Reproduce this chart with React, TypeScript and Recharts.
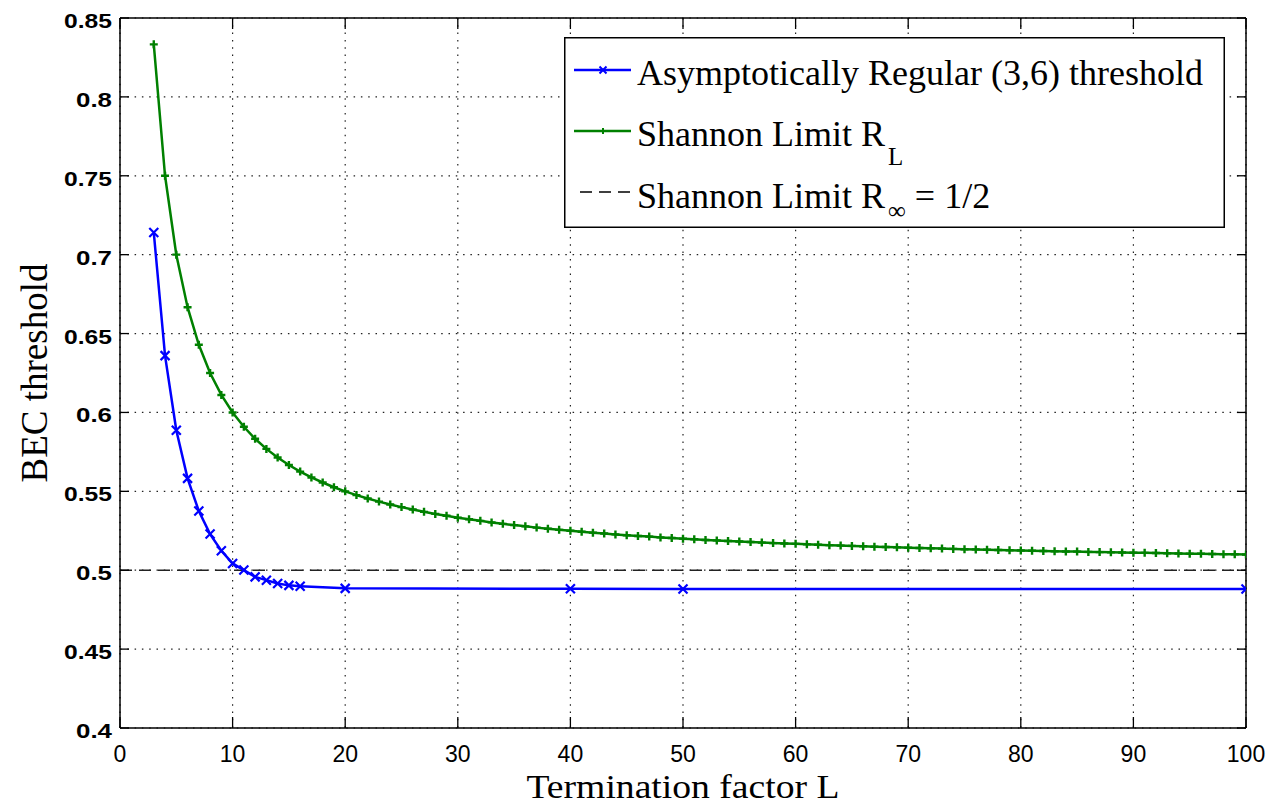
import { LineChart, Line, XAxis, YAxis, CartesianGrid, ReferenceLine, Legend } from 'recharts';

// axis ticks
const xTicks = [0, 10, 20, 30, 40, 50, 60, 70, 80, 90, 100];
const yTicks = [0.4, 0.45, 0.5, 0.55, 0.6, 0.65, 0.7, 0.75, 0.8, 0.85];

// Asymptotically regular (3,6) BP threshold
const thresholdL = [3, 4, 5, 6, 7, 8, 9, 10, 11, 12, 13, 14, 15, 16, 20, 40, 50, 100];
const thresholdValue = [
  0.7140, 0.6360, 0.5887, 0.5582, 0.5375, 0.5229, 0.5123, 0.5043, 0.5001, 0.4958,
  0.4937, 0.4916, 0.4904, 0.4899, 0.4885, 0.4882, 0.4881, 0.4881,
];

// Shannon limit for the terminated rate R_L
const shannonL = [
  3, 4, 5, 6, 7, 8, 9, 10, 11, 12, 13, 14, 15, 16, 17, 18, 19, 20, 21, 22,
  23, 24, 25, 26, 27, 28, 29, 30, 31, 32, 33, 34, 35, 36, 37, 38, 39, 40, 41, 42,
  43, 44, 45, 46, 47, 48, 49, 50, 51, 52, 53, 54, 55, 56, 57, 58, 59, 60, 61, 62,
  63, 64, 65, 66, 67, 68, 69, 70, 71, 72, 73, 74, 75, 76, 77, 78, 79, 80, 81, 82,
  83, 84, 85, 86, 87, 88, 89, 90, 91, 92, 93, 94, 95, 96, 97, 98, 99, 100,
];
const shannonValue = [
  0.8333, 0.75, 0.7, 0.6667, 0.6429, 0.625, 0.6111, 0.6, 0.5909, 0.5833,
  0.5769, 0.5714, 0.5667, 0.5625, 0.5588, 0.5556, 0.5526, 0.55, 0.5476, 0.5455,
  0.5435, 0.5417, 0.54, 0.5385, 0.537, 0.5357, 0.5345, 0.5333, 0.5323, 0.5313,
  0.5303, 0.5294, 0.5286, 0.5278, 0.527, 0.5263, 0.5256, 0.525, 0.5244, 0.5238,
  0.5233, 0.5227, 0.5222, 0.5217, 0.5213, 0.5208, 0.5204, 0.52, 0.5196, 0.5192,
  0.5189, 0.5185, 0.5182, 0.5179, 0.5175, 0.5172, 0.5169, 0.5167, 0.5164, 0.5161,
  0.5159, 0.5156, 0.5154, 0.5152, 0.5149, 0.5147, 0.5145, 0.5143, 0.5141, 0.5139,
  0.5137, 0.5135, 0.5133, 0.5132, 0.513, 0.5128, 0.5127, 0.5125, 0.5123, 0.5122,
  0.512, 0.5119, 0.5118, 0.5116, 0.5115, 0.5114, 0.5112, 0.5111, 0.511, 0.5109,
  0.5108, 0.5106, 0.5105, 0.5104, 0.5103, 0.5102, 0.5101, 0.51,
];

const shannonInf = 0.5;

const thresholdData = thresholdL.map((L, i) => ({ L, v: thresholdValue[i] }));
const shannonData = shannonL.map((L, i) => ({ L, v: shannonValue[i] }));

const W = 1268;
const H = 805;
const PLOT = { left: 120, right: 1246, top: 18, bottom: 728 };

const BLUE = '#0000ff';
const GREEN = '#008000';
const SERIF = '"Liberation Serif", "Times New Roman", serif';
const SANS = '"Liberation Sans", Arial, sans-serif';

function xMarkPath(cx: number, cy: number, r = 4.5) {
  return `M${cx - r},${cy - r}L${cx + r},${cy + r}M${cx - r},${cy + r}L${cx + r},${cy - r}`;
}
function plusPath(cx: number, cy: number, r = 4) {
  return `M${cx - r},${cy}L${cx + r},${cy}M${cx},${cy - r}L${cx},${cy + r}`;
}

const renderX = (p: any) => (
  <path key={`x-${p.index}`} d={xMarkPath(p.cx, p.cy)} stroke={BLUE} strokeWidth={2.2} fill="none" />
);
const renderPlus = (p: any) => (
  <path key={`p-${p.index}`} d={plusPath(p.cx, p.cy)} stroke={GREEN} strokeWidth={2.4} fill="none" />
);

function XTick({ x, payload }: any) {
  return (
    <g>
      <line x1={x} x2={x} y1={PLOT.bottom} y2={PLOT.bottom - 11} stroke="#000" strokeWidth={1.3} />
      <line x1={x} x2={x} y1={PLOT.top} y2={PLOT.top + 11} stroke="#000" strokeWidth={1.3} />
      <text x={x} y={762} textAnchor="middle" fontFamily={SANS} fontSize={23} fill="#000">
        {payload.value}
      </text>
    </g>
  );
}

function YTick({ y, payload }: any) {
  const label = String(payload.value);
  return (
    <g>
      <line x1={PLOT.left} x2={PLOT.left + 9} y1={y} y2={y} stroke="#000" strokeWidth={1.3} />
      <line x1={PLOT.right} x2={PLOT.right - 9} y1={y} y2={y} stroke="#000" strokeWidth={1.3} />
      <text
        x={PLOT.left - 8}
        y={y + 10}
        textAnchor="end"
        fontFamily={SANS}
        fontWeight="bold"
        fontSize={21}
        textLength={label.length * 12}
        lengthAdjust="spacingAndGlyphs"
        fill="#000"
      >
        {label}
      </text>
    </g>
  );
}

function XTitle() {
  return (
    <text
      x={(PLOT.left + PLOT.right) / 2}
      y={797.5}
      textAnchor="middle"
      fontFamily={SERIF}
      fontSize={34}
      textLength={313}
      lengthAdjust="spacingAndGlyphs"
      fill="#000"
    >
      Termination factor L
    </text>
  );
}

function YTitle() {
  const cy = (PLOT.top + PLOT.bottom) / 2;
  return (
    <text
      x={47}
      y={cy}
      transform={`rotate(-90 47 ${cy})`}
      textAnchor="middle"
      fontFamily={SERIF}
      fontSize={37}
      fill="#000"
    >
      BEC threshold
    </text>
  );
}

const LEG = { left: 564, top: 37, width: 661, height: 191 };

function LegendBox() {
  const txt = { fontFamily: SERIF, fontSize: 36, fill: '#000' };
  return (
    <svg width={LEG.width} height={LEG.height} style={{ display: 'block' }}>
      <rect x={0.75} y={0.75} width={LEG.width - 1.5} height={LEG.height - 1.5} fill="#fff" stroke="#000" strokeWidth={1.5} />
      <line x1={10} x2={67} y1={33} y2={33} stroke={BLUE} strokeWidth={2.5} />
      <path d={xMarkPath(39, 33, 3.5)} stroke={BLUE} strokeWidth={2} />
      <text x={73} y={48} {...txt}>Asymptotically Regular (3,6) threshold</text>

      <line x1={10} x2={67} y1={94} y2={94} stroke={GREEN} strokeWidth={2.5} />
      <path d={plusPath(39, 94, 3)} stroke={GREEN} strokeWidth={2} />
      <text x={73} y={109} {...txt}>
        Shannon Limit R
        <tspan dx={3} dy={19} fontSize={25}>L</tspan>
      </text>

      <line x1={16} x2={66} y1={155} y2={155} stroke="#000" strokeWidth={1.5} strokeDasharray="12 7" />
      <text x={73} y={171} {...txt}>
        Shannon Limit R
        <tspan dx={3} dy={11} fontSize={25}>∞</tspan>
        <tspan dy={-11}> = 1/2</tspan>
      </text>
    </svg>
  );
}

export default function App() {
  return (
    <div style={{ width: W, height: H, background: '#fff' }}>
      <style>{'body{margin:0;background:#fff}'}</style>
      <LineChart
        width={W}
        height={H}
        margin={{ top: PLOT.top, right: W - PLOT.right, bottom: 0, left: PLOT.left - 60 }}
      >
        <CartesianGrid stroke="#222" strokeWidth={1.2} strokeDasharray="1.5 5.8" />
        <XAxis
          type="number"
          dataKey="L"
          domain={[0, 100]}
          ticks={xTicks}
          height={H - PLOT.bottom}
          axisLine={{ stroke: '#000', strokeWidth: 1.5 }}
          tickLine={false}
          tick={<XTick />}
          interval={0}
          label={<XTitle />}
          allowDataOverflow
        />
        <YAxis
          type="number"
          domain={[0.4, 0.85]}
          ticks={yTicks}
          width={60}
          axisLine={{ stroke: '#000', strokeWidth: 1.5 }}
          tickLine={false}
          tick={<YTick />}
          interval={0}
          label={<YTitle />}
          allowDataOverflow
        />
        <ReferenceLine y={0.85} stroke="#000" strokeWidth={1.5} />
        <ReferenceLine x={100} stroke="#000" strokeWidth={1.5} />
        <ReferenceLine y={shannonInf} stroke="#222" strokeWidth={1.5} strokeDasharray="12 7" />
        <Line
          data={shannonData}
          dataKey="v"
          type="linear"
          stroke={GREEN}
          strokeWidth={2.5}
          dot={renderPlus}
          activeDot={false}
          isAnimationActive={false}
        />
        <Line
          data={thresholdData}
          dataKey="v"
          type="linear"
          stroke={BLUE}
          strokeWidth={2.5}
          dot={renderX}
          activeDot={false}
          isAnimationActive={false}
        />
        <Legend
          layout="horizontal"
          verticalAlign="middle"
          align="center"
          wrapperStyle={{ left: LEG.left, top: LEG.top, width: LEG.width, height: LEG.height }}
          content={() => <LegendBox />}
        />
      </LineChart>
    </div>
  );
}
